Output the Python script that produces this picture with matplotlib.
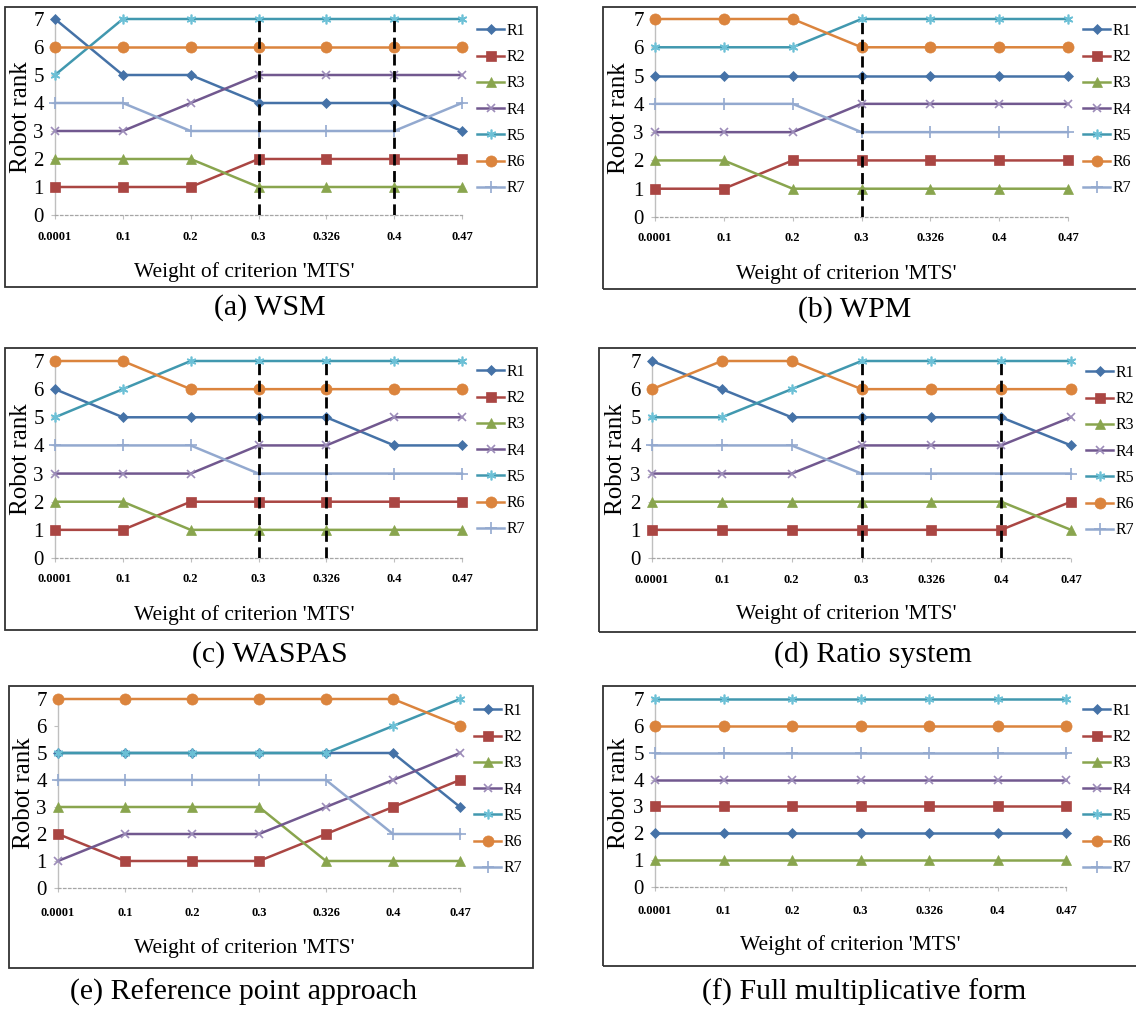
import matplotlib
matplotlib.use("Agg")
import matplotlib.pyplot as plt
from matplotlib.patches import Rectangle

plt.rcParams['font.family'] = ['Liberation Serif', 'DejaVu Serif']

# x categories (weight of criterion 'MTS') and robots
weights = ['0.0001', '0.1', '0.2', '0.3', '0.326', '0.4', '0.47']
robots = ['R1', 'R2', 'R3', 'R4', 'R5', 'R6', 'R7']

# ranks per robot (R1..R7) for each method
wsm = [[7, 5, 5, 4, 4, 4, 3],
       [1, 1, 1, 2, 2, 2, 2],
       [2, 2, 2, 1, 1, 1, 1],
       [3, 3, 4, 5, 5, 5, 5],
       [5, 7, 7, 7, 7, 7, 7],
       [6, 6, 6, 6, 6, 6, 6],
       [4, 4, 3, 3, 3, 3, 4]]
wpm = [[5, 5, 5, 5, 5, 5, 5],
       [1, 1, 2, 2, 2, 2, 2],
       [2, 2, 1, 1, 1, 1, 1],
       [3, 3, 3, 4, 4, 4, 4],
       [6, 6, 6, 7, 7, 7, 7],
       [7, 7, 7, 6, 6, 6, 6],
       [4, 4, 4, 3, 3, 3, 3]]
waspas = [[6, 5, 5, 5, 5, 4, 4],
          [1, 1, 2, 2, 2, 2, 2],
          [2, 2, 1, 1, 1, 1, 1],
          [3, 3, 3, 4, 4, 5, 5],
          [5, 6, 7, 7, 7, 7, 7],
          [7, 7, 6, 6, 6, 6, 6],
          [4, 4, 4, 3, 3, 3, 3]]
ratio = [[7, 6, 5, 5, 5, 5, 4],
         [1, 1, 1, 1, 1, 1, 2],
         [2, 2, 2, 2, 2, 2, 1],
         [3, 3, 3, 4, 4, 4, 5],
         [5, 5, 6, 7, 7, 7, 7],
         [6, 7, 7, 6, 6, 6, 6],
         [4, 4, 4, 3, 3, 3, 3]]
refpoint = [[5, 5, 5, 5, 5, 5, 3],
            [2, 1, 1, 1, 2, 3, 4],
            [3, 3, 3, 3, 1, 1, 1],
            [1, 2, 2, 2, 3, 4, 5],
            [5, 5, 5, 5, 5, 6, 7],
            [7, 7, 7, 7, 7, 7, 6],
            [4, 4, 4, 4, 4, 2, 2]]
fullmult = [[2] * 7, [3] * 7, [1] * 7, [4] * 7, [7] * 7, [6] * 7, [5] * 7]

# weights where the dashed marker lines are drawn
wsm_breaks = ['0.3', '0.4']
wpm_breaks = ['0.3']
waspas_breaks = ['0.3', '0.326']
ratio_breaks = ['0.3', '0.4']
refpoint_breaks = []
fullmult_breaks = []

captions = ['(a) WSM', '(b) WPM', '(c) WASPAS', '(d) Ratio system',
            '(e) Reference point approach', '(f) Full multiplicative form']

colors = ['#4572A7', '#AA4643', '#89A54E', '#71588F', '#4198AF', '#DB843D', '#93A9CF']
mk_colors = ['#4572A7', '#AA4643', '#89A54E', '#9C8CB9', '#6CC0D6', '#DB843D', '#93A9CF']
markers = ['D', 's', '^', 'x', (6, 2, 0), 'o', '+']
msizes = [5, 7, 7, 6, 7, 8, 8]

W, H = 1136, 1011

# pixel layout: box(l,t,r,b), plot(x0,x6,y7,y0), legend(x,first row y),
# ylabel x, xlabel (cx,cy), tick label y, caption (cx,cy)
layout = [
    dict(box=(5, 7, 537, 287), plot=(55, 462, 19, 215), leg=(477, 29), yl=21, xl=(244, 272), ty=238, cap=(270, 308)),
    dict(box=(603, 7, 1140, 289), plot=(655, 1068, 19, 217), leg=(1083, 29), yl=619, xl=(846, 274), ty=239, cap=(855, 310)),
    dict(box=(5, 348, 537, 630), plot=(55, 462, 361, 558), leg=(477, 370), yl=21, xl=(244, 615), ty=580, cap=(270, 655)),
    dict(box=(599, 348, 1140, 632), plot=(652, 1071, 361, 558), leg=(1086, 371), yl=616, xl=(846, 614), ty=581, cap=(873, 655)),
    dict(box=(9, 686, 533, 968), plot=(58, 460, 699, 888), leg=(474, 709), yl=24, xl=(244, 948), ty=914, cap=(243, 992)),
    dict(box=(603, 686, 1140, 966), plot=(655, 1066, 699, 887), leg=(1083, 709), yl=619, xl=(850, 945), ty=912, cap=(864, 992)),
]

methods = [wsm, wpm, waspas, ratio, refpoint, fullmult]
breaks = [wsm_breaks, wpm_breaks, waspas_breaks, ratio_breaks, refpoint_breaks, fullmult_breaks]

fig = plt.figure(figsize=(W / 100, H / 100), dpi=100)


def fx(px):
    return px / W


def fy(py):
    return 1 - py / H


for ranks, brk, cap, L in zip(methods, breaks, captions, layout):
    l, t, r, b = L['box']
    fig.patches.append(Rectangle((fx(l), fy(b)), fx(r - l), (b - t) / H, transform=fig.transFigure,
                                 fill=False, edgecolor='#333333', linewidth=1.3))
    x0, x6, y7, y0 = L['plot']
    ax = fig.add_axes([fx(x0), fy(y0), fx(x6 - x0), (y0 - y7) / H])

    xs = list(range(len(weights)))
    for i, name in enumerate(robots):
        ax.plot(xs, ranks[i], color=colors[i], lw=1.8, marker=markers[i], ms=msizes[i],
                mfc=mk_colors[i], mec=mk_colors[i], mew=1.2 if i in (3, 4, 6) else 0.5,
                label=name, clip_on=False, zorder=3)
    bx = [weights.index(w) for w in brk]
    if bx:
        ax.vlines(bx, 0, 7, colors='black', linestyles=(0, (4, 2)), lw=2, zorder=4)

    ax.set_xlim(0, len(weights) - 1)
    ax.set_ylim(0, 7)
    ax.set_xticks(xs)
    ax.set_xticklabels(weights, fontsize=9, fontweight='bold')
    ax.set_yticks(range(8))
    ax.set_yticklabels([str(v) for v in range(8)], fontsize=15)
    for s in ('top', 'right'):
        ax.spines[s].set_visible(False)
    ax.spines['left'].set_color('#BFBFBF')
    ax.spines['left'].set_linewidth(1)
    ax.spines['bottom'].set_color('#A6A6A6')
    ax.spines['bottom'].set_linestyle((0, (2, 2)))
    ax.spines['bottom'].set_linewidth(0.9)
    pad_x = ((L['ty'] - y0) - 6.5 - 4.2) / 1.389
    ax.tick_params(axis='x', length=3, color='#BFBFBF', pad=pad_x)
    ax.tick_params(axis='y', length=3, color='#BFBFBF', pad=5)

    ax.set_ylabel('Robot rank', fontsize=18)
    ax.yaxis.set_label_coords(fx(L['yl']), fy((y7 + y0) / 2), transform=fig.transFigure)
    ax.yaxis.label.set_va('center')
    ax.set_xlabel("Weight of criterion 'MTS'", fontsize=15.5)
    ax.xaxis.set_label_coords(fx(L['xl'][0]), fy(L['xl'][1]), transform=fig.transFigure)
    ax.xaxis.label.set_va('center')

    lx, ly = L['leg']
    ax.legend(loc='upper left', bbox_to_anchor=(fx(lx), fy(ly - 6)), bbox_transform=fig.transFigure,
              frameon=False, fontsize=11.5, borderpad=0, borderaxespad=0, handlelength=1.7,
              handletextpad=0.15, labelspacing=0.64, numpoints=1)

    fig.text(fx(L['cap'][0]), fy(L['cap'][1]), cap, ha='center', va='center', fontsize=21.5)

fig.savefig('out.png', dpi=100)
